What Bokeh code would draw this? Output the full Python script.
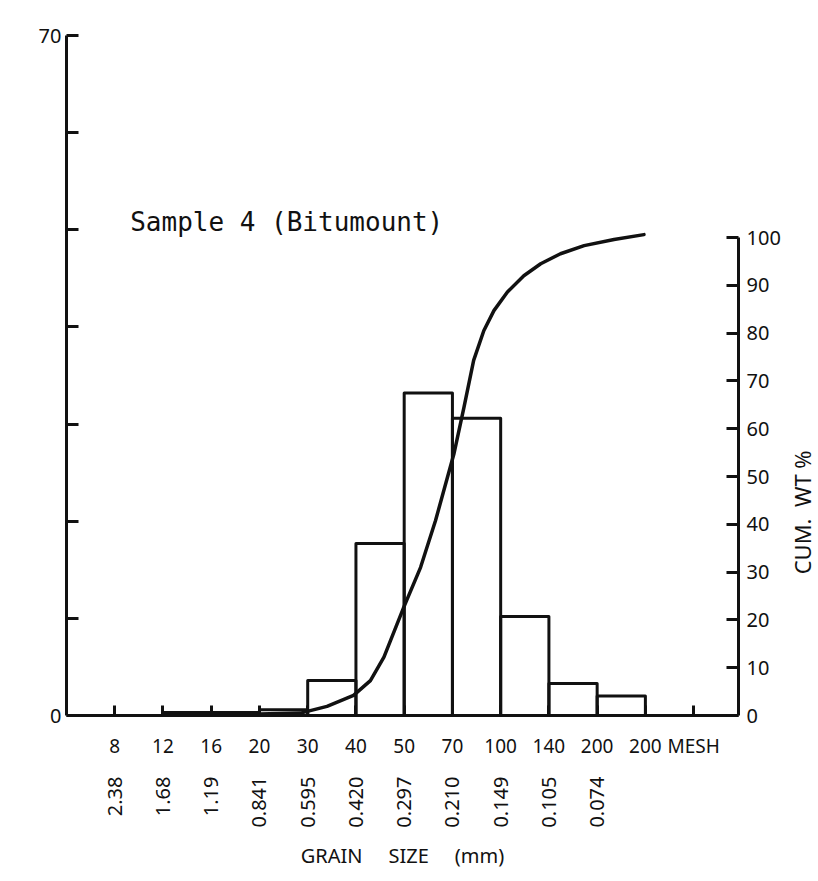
from math import pi
from bokeh.plotting import figure
from bokeh.models import (Range1d, LinearAxis, FixedTicker, Label)
from bokeh.embed import file_html
from bokeh.resources import INLINE

# ---- data ----
mesh_labels = ["8", "12", "16", "20", "30", "40", "50", "70", "100", "140", "200", "200", "MESH"]
diam_labels = ["2.38", "1.68", "1.19", "0.841", "0.595", "0.420", "0.297", "0.210",
               "0.149", "0.105", "0.074"]
# weight % retained per sieve interval (left axis)
bar_left = [0, 1, 2, 3, 4, 5, 6, 7, 8, 9, 10]
wt_pct = [0.0, 0.3, 0.3, 0.6, 3.6, 17.7, 33.2, 30.6, 10.2, 3.3, 2.0]
# cumulative curve (right axis)
cum_x = [1.0, 2.0, 3.0, 3.85, 4.40, 4.95, 5.30, 5.58, 5.99, 6.34, 6.65, 7.03, 7.24,
         7.44, 7.65, 7.86, 8.14, 8.48, 8.83, 9.24, 9.73, 10.35, 10.97]
cum_y = [0.1, 0.2, 0.3, 0.5, 1.9, 4.2, 7.3, 12.2, 22.6, 31.0, 40.8, 54.7, 64.5,
         74.3, 80.5, 84.7, 88.6, 92.0, 94.5, 96.6, 98.3, 99.6, 100.6]
left_ticks = [0, 10, 20, 30, 40, 50, 60, 70]
right_ticks = [0, 10, 20, 30, 40, 50, 60, 70, 80, 90, 100]
title_text = "Sample 4 (Bitumount)"
right_title = "CUM.\u00a0\u00a0WT\u00a0%"

FONT = "Noto Sans"
INK = "#111111"

p = figure(width=818, height=881, output_backend="svg", toolbar_location=None,
           x_range=Range1d(-1.0, 12.93), y_range=Range1d(0, 70),
           min_border_left=66, min_border_right=80, min_border_top=35,
           min_border_bottom=166)
p.grid.visible = False
p.outline_line_color = None
p.background_fill_color = "white"
p.border_fill_color = "white"

p.extra_y_ranges = {"cum": Range1d(0, 142.26)}

# left axis
ya = p.yaxis[0]
ya.ticker = FixedTicker(ticks=left_ticks)
ya.major_label_overrides = {t: (str(t) if t in (0, 70) else "") for t in left_ticks}
ya.major_tick_in = 12
ya.major_tick_out = 0
ya.minor_tick_line_color = None
ya.axis_line_width = 3
ya.major_tick_line_width = 3
ya.axis_line_color = INK
ya.major_tick_line_color = INK
ya.major_label_text_font = FONT
ya.major_label_text_font_size = "20px"
ya.major_label_text_color = INK
ya.major_label_standoff = 5

# bottom (mesh) axis
xa = p.xaxis[0]
xa.ticker = FixedTicker(ticks=list(range(len(mesh_labels))))
xa.major_label_overrides = {i: s for i, s in enumerate(mesh_labels)}
xa.major_tick_in = 10
xa.major_tick_out = 0
xa.minor_tick_line_color = None
xa.axis_line_width = 3
xa.major_tick_line_width = 3
xa.axis_line_color = INK
xa.major_tick_line_color = INK
xa.major_label_text_font = FONT
xa.major_label_text_font_size = "19px"
xa.major_label_text_color = INK
xa.major_label_standoff = 17

# diameter axis
da = LinearAxis(ticker=FixedTicker(ticks=list(range(len(diam_labels)))))
da.major_label_overrides = {i: s for i, s in enumerate(diam_labels)}
da.axis_line_color = None
da.major_tick_line_color = None
da.minor_tick_line_color = None
da.major_label_orientation = pi / 2
da.major_label_text_font = FONT
da.major_label_text_font_size = "20px"
da.major_label_text_color = INK
da.major_label_standoff = 9
da.axis_label = "GRAIN\u00a0\u00a0\u00a0\u00a0\u00a0SIZE\u00a0\u00a0\u00a0\u00a0\u00a0(mm)"
da.axis_label_text_font = FONT
da.axis_label_text_font_style = "normal"
da.axis_label_text_font_size = "20px"
da.axis_label_text_color = INK
da.axis_label_standoff = 11
p.add_layout(da, "below")

# right axis
ra = LinearAxis(y_range_name="cum", ticker=FixedTicker(ticks=right_ticks), bounds=(0, 100))
ra.major_tick_in = 12
ra.major_tick_out = 0
ra.minor_tick_line_color = None
ra.axis_line_width = 3
ra.major_tick_line_width = 3
ra.axis_line_color = INK
ra.major_tick_line_color = INK
ra.major_label_text_font = FONT
ra.major_label_text_font_size = "20px"
ra.major_label_text_color = INK
ra.major_label_standoff = 8
p.add_layout(ra, "right")

# right-hand axis title, placed in the right side panel (not clipped to the frame)
p.add_layout(Label(x=14.24, y=42.5, y_range_name="cum", text=right_title, angle=pi / 2,
                   text_font=FONT, text_font_size="22px", text_color=INK,
                   text_align="center", text_baseline="middle"), "right")

# histogram bars
p.quad(left=bar_left, right=[b + 1 for b in bar_left], bottom=0, top=wt_pct,
       fill_color=None, line_color=INK, line_width=3, line_join="round")

# cumulative curve
p.line(cum_x, cum_y, y_range_name="cum", line_color=INK, line_width=3.5,
       line_join="round", line_cap="round")

# title
p.add_layout(Label(x=0.32, y=50.8, text=title_text, text_font="DejaVu Sans Mono",
                   text_font_size="26px", text_color=INK, text_baseline="alphabetic"))

open("out.html", "w").write(file_html(p, INLINE))
